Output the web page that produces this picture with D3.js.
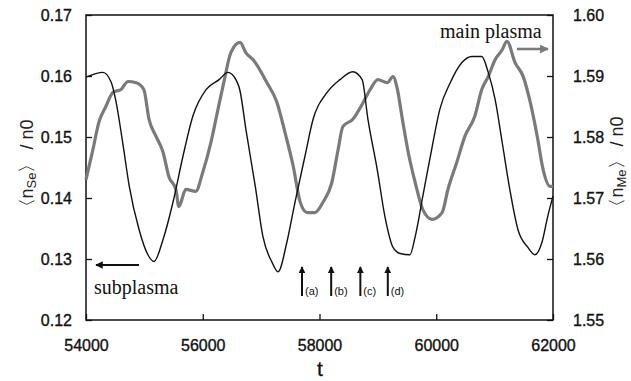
<!DOCTYPE html>
<html>
<head>
<meta charset="utf-8">
<script src="https://cdn.jsdelivr.net/npm/d3@7"></script>
<style>
  body { margin: 0; background: #fff; }
  .tick text { font-family: "Liberation Sans", Arial, sans-serif; font-size: 16px; fill: #111; stroke: #111; stroke-width: 0.35px; }
</style>
</head>
<body>
<script>
// subplasma (left axis), black line
const subT = [54000, 54290, 54430, 54510, 54630, 54740, 54910, 55060, 55165, 55320, 55490, 55660, 55830, 56060, 56280, 56430, 56535, 56640, 56740, 56900, 57030, 57190, 57290, 57440, 57580, 57750, 57890, 58130, 58350, 58570, 58730, 58830, 58990, 59120, 59260, 59380, 59550, 59640, 59770, 59930, 60060, 60240, 60440, 60610, 60780, 60890, 61010, 61130, 61260, 61400, 61570, 61690, 61810, 61910, 62000];
const subV = [0.1598, 0.1606, 0.1590, 0.1560, 0.1490, 0.1420, 0.1348, 0.1307, 0.1296, 0.1332, 0.1393, 0.1468, 0.1534, 0.1578, 0.1594, 0.1606, 0.1599, 0.1575, 0.1512, 0.1419, 0.1337, 0.1294, 0.1279, 0.1327, 0.1393, 0.1468, 0.1529, 0.1573, 0.1594, 0.1607, 0.1594, 0.1529, 0.1446, 0.1370, 0.1319, 0.1309, 0.1307, 0.1337, 0.1403, 0.1484, 0.1545, 0.1589, 0.1622, 0.1632, 0.1632, 0.1606, 0.1561, 0.1491, 0.1414, 0.1348, 0.1319, 0.1307, 0.1327, 0.1370, 0.1403];

// main plasma (right axis), gray line
const mainT = [54000, 54120, 54220, 54340, 54460, 54600, 54720, 54860, 54990, 55080, 55200, 55320, 55420, 55540, 55590, 55710, 55880, 56000, 56140, 56260, 56360, 56480, 56640, 56740, 56860, 57100, 57270, 57410, 57550, 57670, 57790, 57920, 58060, 58210, 58320, 58400, 58570, 58750, 58870, 59000, 59160, 59260, 59330, 59420, 59520, 59640, 59770, 59930, 60100, 60200, 60350, 60490, 60660, 60780, 60890, 61010, 61130, 61210, 61350, 61490, 61610, 61730, 61830, 61950, 62000];
const mainV = [1.5730, 1.5780, 1.5824, 1.5850, 1.5873, 1.5878, 1.5891, 1.5889, 1.5878, 1.5829, 1.5801, 1.5775, 1.5735, 1.5714, 1.5686, 1.5714, 1.5711, 1.5742, 1.5791, 1.5845, 1.5889, 1.5938, 1.5955, 1.5938, 1.5927, 1.5889, 1.5857, 1.5807, 1.5752, 1.5693, 1.5676, 1.5676, 1.5693, 1.5725, 1.5780, 1.5817, 1.5829, 1.5857, 1.5878, 1.5894, 1.5889, 1.5899, 1.5880, 1.5829, 1.5775, 1.5725, 1.5681, 1.5665, 1.5676, 1.5714, 1.5758, 1.5801, 1.5834, 1.5878, 1.5899, 1.5927, 1.5943, 1.5957, 1.5922, 1.5899, 1.5857, 1.5801, 1.5747, 1.5719, 1.5719];

const xTicks = [54000, 56000, 58000, 60000, 62000];
const leftTicks = [0.12, 0.13, 0.14, 0.15, 0.16, 0.17];
const rightTicks = [1.55, 1.56, 1.57, 1.58, 1.59, 1.60];
const eventT = [57700, 58200, 58700, 59170];
const eventLabels = ["(a)", "(b)", "(c)", "(d)"];

const width = 631, height = 381;
const margin = { top: 15, right: 78, bottom: 61, left: 86 };

const svg = d3.select("body").append("svg").attr("width", width).attr("height", height);

const x = d3.scaleLinear().domain([54000, 62000]).range([margin.left, width - margin.right]);
const yL = d3.scaleLinear().domain([0.12, 0.17]).range([height - margin.bottom, margin.top]);
const yR = d3.scaleLinear().domain([1.55, 1.60]).range([height - margin.bottom, margin.top]);

// axes, ticks pointing inward
svg.append("g")
  .attr("transform", `translate(0,${height - margin.bottom})`)
  .call(d3.axisBottom(x).tickValues(xTicks).tickSize(-6).tickPadding(20).tickFormat(d3.format("d")))
  .call(g => g.select(".domain").remove());

svg.append("g")
  .attr("transform", `translate(${margin.left},0)`)
  .call(d3.axisLeft(yL).tickValues(leftTicks).tickSize(-6).tickPadding(14).tickFormat(d3.format(".2f")))
  .call(g => g.select(".domain").remove());

svg.append("g")
  .attr("transform", `translate(${width - margin.right},0)`)
  .call(d3.axisRight(yR).tickValues(rightTicks).tickSize(-6).tickPadding(20).tickFormat(d3.format(".2f")))
  .call(g => g.select(".domain").remove());

svg.selectAll(".tick line").attr("stroke", "#111").attr("stroke-width", 1.3);

// frame
svg.append("rect")
  .attr("x", margin.left).attr("y", margin.top)
  .attr("width", width - margin.left - margin.right)
  .attr("height", height - margin.top - margin.bottom)
  .attr("fill", "none").attr("stroke", "#111").attr("stroke-width", 1.5);

// lines
const mainLine = d3.line().x((d, i) => x(mainT[i])).y(d => yR(d)).curve(d3.curveMonotoneX);
svg.append("path")
  .attr("d", mainLine(mainV))
  .attr("fill", "none").attr("stroke", "#7a7a7a").attr("stroke-width", 3.2)
  .attr("stroke-linejoin", "round");

const subLine = d3.line().x((d, i) => x(subT[i])).y(d => yL(d)).curve(d3.curveMonotoneX);
svg.append("path")
  .attr("d", subLine(subV))
  .attr("fill", "none").attr("stroke", "#111").attr("stroke-width", 1.4)
  .attr("stroke-linejoin", "round");

// arrow markers
const defs = svg.append("defs");
function marker(id, color) {
  defs.append("marker").attr("id", id)
    .attr("viewBox", "0 0 10 10").attr("refX", 9).attr("refY", 5)
    .attr("markerWidth", 3.8).attr("markerHeight", 3.4).attr("orient", "auto")
    .append("path").attr("d", "M0,0 L10,5 L0,10 z").attr("fill", color);
}
marker("ahBlack", "#111");
marker("ahGray", "#7a7a7a");

// legend annotations
svg.append("text").attr("x", 440).attr("y", 38)
  .attr("font-family", "Liberation Serif, Times New Roman, serif").attr("font-size", 20)
  .attr("fill", "#111").text("main plasma");
svg.append("line").attr("x1", 517).attr("x2", 548).attr("y1", 49).attr("y2", 49)
  .attr("stroke", "#7a7a7a").attr("stroke-width", 2.6).attr("marker-end", "url(#ahGray)");

svg.append("text").attr("x", 94).attr("y", 294)
  .attr("font-family", "Liberation Serif, Times New Roman, serif").attr("font-size", 20)
  .attr("fill", "#111").text("subplasma");
svg.append("line").attr("x1", 139).attr("x2", 96).attr("y1", 265).attr("y2", 265)
  .attr("stroke", "#111").attr("stroke-width", 2.2).attr("marker-end", "url(#ahBlack)");

// event arrows (a)-(d)
const ev = svg.append("g");
ev.selectAll("line").data(eventT).join("line")
  .attr("x1", d => x(d)).attr("x2", d => x(d))
  .attr("y1", 296).attr("y2", 267)
  .attr("stroke", "#111").attr("stroke-width", 2).attr("marker-end", "url(#ahBlack)");
ev.selectAll("text").data(eventT).join("text")
  .attr("x", d => x(d) + 3).attr("y", 295)
  .attr("font-family", "Liberation Sans, Arial, sans-serif").attr("font-size", 11)
  .attr("fill", "#111").text((d, i) => eventLabels[i]);

// axis titles
svg.append("text").attr("x", 320).attr("y", 376).attr("text-anchor", "middle")
  .attr("font-family", "Liberation Sans, Arial, sans-serif").attr("font-size", 21)
  .attr("fill", "#111").attr("stroke", "#111").attr("stroke-width", 0.3).text("t");

function yTitle(cx, cy, sub) {
  const t = svg.append("text")
    .attr("transform", `translate(${cx},${cy}) rotate(-90)`)
    .attr("text-anchor", "middle")
    .attr("font-family", "Liberation Sans, Arial, sans-serif").attr("font-size", 18)
    .attr("fill", "#222");
  t.append("tspan").text("〈n");
  t.append("tspan").attr("font-size", 13).attr("dy", 3).text(sub);
  t.append("tspan").attr("dy", -3).text("〉 / n0");
}
yTitle(33, 168, "Se");
yTitle(623, 166, "Me");
</script>
</body>
</html>
